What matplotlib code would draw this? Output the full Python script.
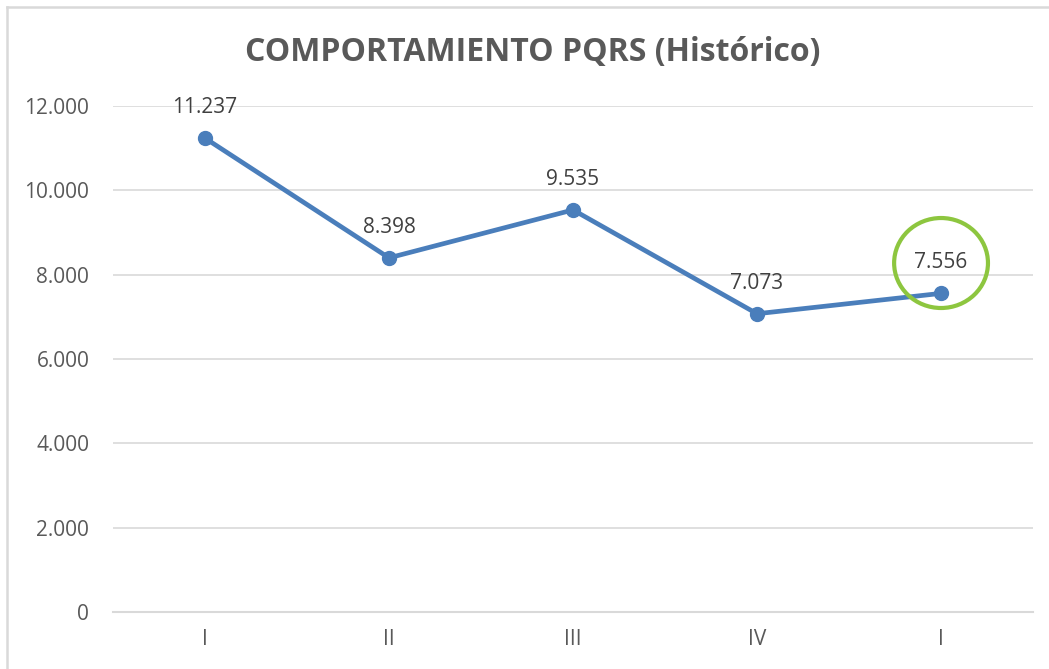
import matplotlib.pyplot as plt
from matplotlib.patches import Ellipse
from matplotlib.lines import Line2D
from matplotlib.ticker import FuncFormatter

# Datos
trimestres = ['I', 'II', 'III', 'IV', 'I']
pqrs = [11237, 8398, 9535, 7073, 7556]

azul = '#4a7ebb'
gris = '#595959'

plt.rcParams['font.family'] = ['Open Sans', 'DejaVu Sans']

fig = plt.figure(figsize=(10.49, 6.69), dpi=100)
ax = fig.add_axes([0.1077, 0.0852, 0.8771, 0.7564])

x = list(range(len(pqrs)))
ax.plot(x, pqrs, color=azul, lw=3.4, marker='o', ms=10, zorder=3)

# Etiquetas de datos
for xi, v in zip(x, pqrs):
    etiqueta = f'{v:,}'.replace(',', '.')
    ax.annotate(etiqueta, (xi, v), xytext=(0, 22), textcoords='offset points',
                ha='center', va='center', fontsize=15, color='#404040')

# Circulo verde en el ultimo dato
ax.add_patch(Ellipse((4, 8276), 0.51, 2134, fill=False, ec='#8dc63f', lw=3, zorder=4))

ax.set_xlim(-0.5, len(pqrs) - 0.5)
ax.set_ylim(0, 12000)
ax.set_yticks(range(0, 12001, 2000))
ax.yaxis.set_major_formatter(FuncFormatter(lambda v, p: f'{int(v):,}'.replace(',', '.')))
ax.set_xticks(x)
ax.set_xticklabels(trimestres)
ax.tick_params(length=0, labelsize=15, labelcolor=gris, pad=12)
ax.tick_params(axis='y', pad=17)
ax.grid(axis='y', color='#d9d9d9', lw=1.2)
ax.set_axisbelow(True)
for s in ax.spines.values():
    s.set_visible(False)
ax.axhline(0, color='#d9d9d9', lw=1.5, clip_on=False, zorder=1)

fig.text(0.508, 0.922, 'COMPORTAMIENTO PQRS (Histórico)', ha='center', va='center',
         fontsize=23, fontweight='bold', color=gris)

# Marco del grafico (solo arriba e izquierda visibles)
fig.add_artist(Line2D([0.0062, 0.0062], [0.0, 0.9895], transform=fig.transFigure,
                      color='#d9d9d9', lw=1.8))
fig.add_artist(Line2D([0.0062, 1.0], [0.9895, 0.9895], transform=fig.transFigure,
                      color='#d9d9d9', lw=1.8))

fig.savefig('out.png', dpi=100)
